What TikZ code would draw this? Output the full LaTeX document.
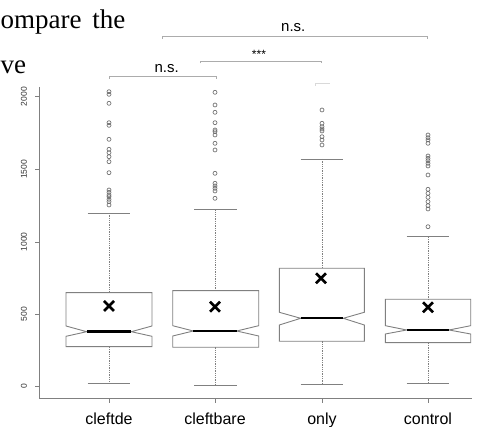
\documentclass[tikz,border=0pt]{standalone}
\usepackage{fontspec}
\setmainfont{Liberation Serif}
\setsansfont{Liberation Sans}
\usepackage{tikz}

\tikzset{
  boxline/.style={draw=gray, line width=0.9pt},
  whisk/.style={gray, line width=0.7pt, dash pattern=on 1.3pt off 1pt},
  medline/.style={black, line width=2.4pt},
  meanmark/.style={black, line width=2.6pt},
  outl/.style={draw=gray!85!black, line width=0.65pt},
  bracket/.style={gray!65, line width=0.8pt},
  axisline/.style={gray, line width=0.8pt},
  ticklab/.style={font=\sffamily\fontsize{16}{18}\selectfont, anchor=base},
  ylab/.style={font=\sffamily\fontsize{8.5}{10}\selectfont, rotate=90, gray!40!black},
}

\begin{document}
\begin{tikzpicture}[x=1pt, y=-1pt]
  \useasboundingbox (0,0) rectangle (483,427);
  % running text of the page
  \node[anchor=base west, inner sep=0pt, font=\fontsize{27}{30}\selectfont] (txtA) at (0.5,29) {ompare\hspace{4pt} the};
  \node[anchor=base west, inner sep=0pt, font=\fontsize{27}{30}\selectfont] (txtB) at (0.5,74) {ve};

  % axes
  \draw[axisline] (39,87) -- (39,398.5) -- (472,398.5);
  \draw[axisline] (35,386) -- (39,386) (35,314) -- (39,314) (35,242) -- (39,242) (35,169.3) -- (39,169.3) (35,96.7) -- (39,96.7);
  \node[ylab] (y0) at (24,386) {0};
  \node[ylab] (y500) at (24,314) {500};
  \node[ylab] (y1000) at (24,242) {1000};
  \node[ylab] (y1500) at (24,169.3) {1500};
  \node[ylab] (y2000) at (24,96.7) {2000};
  \draw[axisline] (109,398.5) -- (109,403) (215,398.5) -- (215,403) (322,398.5) -- (322,403) (428,398.5) -- (428,403);
  \node[ticklab] (cleftde) at (109,425) {cleftde};
  \node[ticklab] (cleftbare) at (215,425) {cleftbare};
  \node[ticklab] (only) at (322,425) {only};
  \node[ticklab] (control) at (428,425) {control};

  % cleftde
  \draw[whisk] (109,213) -- (109,292.7) (109,346.7) -- (109,383.3);
  \draw[boxline] (87.7,213) -- (130.3,213) (87.7,383.3) -- (130.3,383.3);
  \draw[boxline] (66,292.7) -- (152,292.7) -- (152,326) -- (131.3,331.7) -- (152,336.3) -- (152,346.7) -- (66,346.7) -- (66,336.3) -- (86.7,331.7) -- (66,326) -- cycle;
  \draw[medline] (86.7,331.7) -- (131.3,331.7);
  \draw[meanmark] (104,301) -- (114,311) (104,311) -- (114,301);
  \foreach \v in {91.7,94.3,103.3,122.7,125.3,139.3,149.3,152.7,156.7,161.7,172.7,190,192.3,195,196.7,199.3,201.7,205}
    \draw[outl] (109,\v) circle (2pt);

  % cleftbare
  \draw[whisk] (215,209.3) -- (215,290.7) (215,347.3) -- (215,385);
  \draw[boxline] (194.3,209.3) -- (236.7,209.3) (194.3,385) -- (236.7,385);
  \draw[boxline] (172.7,290.7) -- (258.7,290.7) -- (258.7,325.7) -- (236.7,331) -- (258.7,336) -- (258.7,347.3) -- (172.7,347.3) -- (172.7,336) -- (193.3,331) -- (172.7,325.7) -- cycle;
  \draw[medline] (193.3,331) -- (236.7,331);
  \draw[meanmark] (210,301.7) -- (220,311.7) (210,311.7) -- (220,301.7);
  \foreach \v in {92.3,105,112.3,122.7,130,131.7,135,143.3,150,173.3,183.3,186,188.3,191,198.3}
    \draw[outl] (215,\v) circle (2pt);

  % only
  \draw[whisk] (322,159) -- (322,268.3) (322,341.3) -- (322,384.7);
  \draw[boxline] (300.7,159) -- (343.3,159) (300.7,384.7) -- (343.3,384.7);
  \draw[boxline] (279.3,268.3) -- (364.3,268.3) -- (364.3,312.3) -- (343.3,318.3) -- (364.3,325) -- (364.3,341.3) -- (279.3,341.3) -- (279.3,325) -- (300.7,318.3) -- (279.3,312.3) -- cycle;
  \draw[medline] (300.7,318.3) -- (343.3,318.3);
  \draw[meanmark] (316,273.3) -- (326,283.3) (316,283.3) -- (326,273.3);
  \foreach \v in {110,123.3,126.7,129,131,136.7,140,145}
    \draw[outl] (322,\v) circle (2pt);

  % control
  \draw[whisk] (428,236.7) -- (428,299.3) (428,342.7) -- (428,383.7);
  \draw[boxline] (406.7,236.7) -- (449.3,236.7) (406.7,383.7) -- (449.3,383.7);
  \draw[boxline] (385.3,299.3) -- (470.7,299.3) -- (470.7,325.7) -- (449,330) -- (470.7,334) -- (470.7,342.7) -- (385.3,342.7) -- (385.3,334) -- (406.7,330) -- (385.3,325.7) -- cycle;
  \draw[medline] (406.7,330) -- (449,330);
  \draw[meanmark] (423,302.3) -- (433,312.3) (423,312.3) -- (433,302.3);
  \foreach \v in {135,137.7,140,143.3,156,158.3,160.7,163.3,166,175,189.3,193.3,197.3,201.7,205.7,209,226.7}
    \draw[outl] (428,\v) circle (2pt);

  % significance brackets
  \draw[bracket] (162.7,39) -- (162.7,36) -- (427.7,36) -- (427.7,39);
  \node[font=\sffamily\fontsize{15}{17}\selectfont, anchor=base] (nsA) at (293.3,31.5) {n.s.};
  \draw[bracket] (200,63.5) -- (200,61) -- (321,61) -- (321,63.5);
  \node[font=\sffamily\fontsize{12}{14}\selectfont] (star) at (259,54) {***};
  \draw[bracket] (109.3,79) -- (109.3,76) -- (216.7,76) -- (216.7,79);
  \node[font=\sffamily\fontsize{15}{17}\selectfont, anchor=base] (nsB) at (166.7,72.5) {n.s.};
  \draw[bracket, gray!30] (315,86) -- (315,83) -- (330,83);
\end{tikzpicture}
\end{document}
